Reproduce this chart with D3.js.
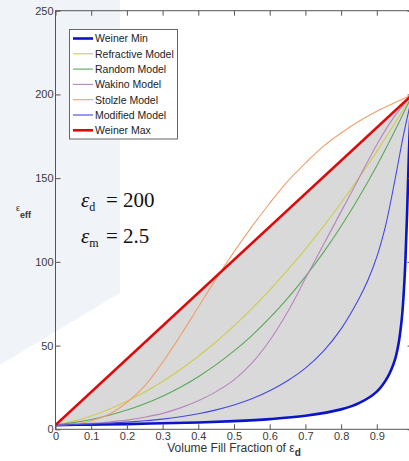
<!DOCTYPE html>
<html>
<head>
<meta charset="utf-8">
<script src="https://cdn.jsdelivr.net/npm/d3@7"></script>
<style>
  body { margin: 0; background: #fff; }
  svg { display: block; font-family: "Liberation Sans", Arial, sans-serif; }
</style>
</head>
<body>
<div class="chart"></div>
<script>
// volume fill fraction grids
const fracGrid = [0, 0.05, 0.1, 0.15, 0.2, 0.25, 0.3, 0.35, 0.4, 0.45, 0.5, 0.55, 0.6, 0.65, 0.7, 0.75, 0.8, 0.85, 0.9, 0.95, 1];
const fracModified = [0, 0.05, 0.1, 0.15, 0.2, 0.25, 0.3, 0.35, 0.4, 0.45, 0.5, 0.55, 0.6, 0.65, 0.7, 0.75, 0.8, 0.85, 0.875, 0.9, 0.925, 0.95, 0.975, 1];
const fracMin = [0, 0.1, 0.2, 0.3, 0.4, 0.5, 0.6, 0.7, 0.8, 0.85, 0.9, 0.93, 0.95, 0.96, 0.97, 0.975, 0.98, 0.985, 0.99, 0.995, 1];
const fracMax = [0, 1];

// effective permittivity
const weinerMin = [2.5, 2.8, 3.1, 3.6, 4.1, 4.9, 6.1, 8.1, 11.9, 15.6, 22.5, 31, 41, 50, 66, 80, 100, 130, 165, 190, 200];
const refractive = [2.5, 4.9, 8, 12, 16.8, 22.3, 28.6, 35.7, 43.6, 52.3, 61.8, 72.1, 83.1, 95, 107.6, 121, 135.3, 150.3, 166, 182.6, 200];
const randomModel = [2.5, 4, 5.9, 8.4, 11.5, 15.3, 19.8, 25.1, 31.4, 38.6, 46.8, 56, 66.5, 78.2, 91.2, 105.5, 121.3, 138.6, 157.4, 178, 200];
const wakino = [2.5, 3, 3.6, 4.4, 5.5, 7.2, 9.5, 12.8, 17, 22.5, 29.5, 39.5, 53, 70, 90, 110, 130, 150, 170, 187, 200];
const stolzle = [2.5, 3.2, 5, 9, 16, 26, 40, 56, 73, 90, 106, 121, 135, 148, 159, 169, 177, 184, 190, 195, 200];
const modified = [2.5, 2.8, 3.2, 3.7, 4.3, 5.1, 6.1, 7.5, 9.3, 11.6, 14.5, 18.2, 23, 29, 36.5, 46.5, 60, 78, 89, 103, 122, 148, 176, 200];
const weinerMax = [2.5, 200];

const xTicks = [0, 0.1, 0.2, 0.3, 0.4, 0.5, 0.6, 0.7, 0.8, 0.9, 1];
const yTicks = [0, 50, 100, 150, 200, 250];

const series = [
  { name: "Weiner Min", fx: fracMin, v: weinerMin, color: "#0a14c8", w: 2.6 },
  { name: "Refractive Model", fx: fracGrid, v: refractive, color: "#cdcd50", w: 1.1 },
  { name: "Random Model", fx: fracGrid, v: randomModel, color: "#5aa85a", w: 1.1 },
  { name: "Wakino Model", fx: fracGrid, v: wakino, color: "#b884c0", w: 1.1 },
  { name: "Stolzle Model", fx: fracGrid, v: stolzle, color: "#f0a06c", w: 1.1 },
  { name: "Modified Model", fx: fracModified, v: modified, color: "#4646e6", w: 1.1 },
  { name: "Weiner Max", fx: fracMax, v: weinerMax, color: "#dc0a0a", w: 2.6 }
];

const W = 409, H = 461;
const x = d3.scaleLinear().domain([0, 1]).range([55.5, 412.5]);
const y = d3.scaleLinear().domain([0, 250]).range([429.3, 10.7]);

const svg = d3.select(".chart").append("svg")
  .attr("width", W).attr("height", H);

svg.append("rect").attr("width", W).attr("height", H).attr("fill", "#fff");

// faint slide decoration behind the chart
svg.append("polygon")
  .attr("points", "0,0 120,0 120,293 0,365")
  .attr("fill", "#f0f3f7");

svg.append("clipPath").attr("id", "plot")
  .append("rect")
  .attr("x", x(0)).attr("y", y(250))
  .attr("width", x(1) - x(0)).attr("height", y(0) - y(250));

const plot = svg.append("g").attr("clip-path", "url(#plot)");

const curve = d3.curveCatmullRom.alpha(0.5);

// grey band between the two Weiner bounds
const maxAt = d3.scaleLinear().domain(fracMax).range(weinerMax);
plot.append("path")
  .datum(fracMin.map((f, i) => [f, weinerMin[i]]))
  .attr("fill", "#d9d9d9")
  .attr("d", d3.area()
    .x(d => x(d[0]))
    .y0(d => y(d[1]))
    .y1(d => y(maxAt(d[0])))
    .curve(curve));

const line = d3.line()
  .x(d => x(d[0]))
  .y(d => y(d[1]))
  .curve(curve);

plot.selectAll(".model")
  .data(series)
  .enter()
  .append("path")
  .attr("class", "model")
  .attr("fill", "none")
  .attr("stroke", d => d.color)
  .attr("stroke-width", d => d.w)
  .attr("stroke-linejoin", "round")
  .attr("d", d => line(d.fx.map((f, i) => [f, d.v[i]])));

// axes, matlab style with inward ticks
const axisColor = "#555";
function styleAxis(g) {
  g.select(".domain").remove();
  g.selectAll(".tick line").attr("stroke", axisColor);
  g.selectAll(".tick text").attr("fill", "#3a3a3a").style("font-size", "11px");
}

// the "1" label falls outside the cropped picture
svg.append("g")
  .attr("transform", `translate(0,${y(0)})`)
  .call(d3.axisBottom(x).tickValues(xTicks).tickSizeInner(-5).tickSizeOuter(0).tickPadding(3)
    .tickFormat(d => d === 1 ? "" : String(d)))
  .call(styleAxis);

svg.append("g")
  .attr("transform", `translate(0,${y(250)})`)
  .call(d3.axisTop(x).tickValues(xTicks).tickSizeInner(-5).tickSizeOuter(0).tickFormat(""))
  .call(styleAxis);

svg.append("g")
  .attr("transform", `translate(${x(0)},0)`)
  .call(d3.axisLeft(y).tickValues(yTicks).tickSizeInner(-5).tickSizeOuter(0).tickPadding(2))
  .call(styleAxis);

svg.append("g")
  .attr("transform", `translate(${x(1)},0)`)
  .call(d3.axisRight(y).tickValues(yTicks).tickSizeInner(-5).tickSizeOuter(0).tickFormat(""))
  .call(styleAxis);

svg.append("rect")
  .attr("x", x(0)).attr("y", y(250))
  .attr("width", x(1) - x(0)).attr("height", y(0) - y(250))
  .attr("fill", "none").attr("stroke", axisColor).attr("stroke-width", 1);

// axis titles
const xt = svg.append("text")
  .attr("x", (x(0) + x(1)) / 2).attr("y", 452)
  .attr("text-anchor", "middle")
  .attr("fill", "#333").style("font-size", "12px");
xt.append("tspan").text("Volume Fill Fraction of ε");
xt.append("tspan").attr("dy", 4).style("font-size", "10px").style("font-weight", "bold").text("d");

const yt = svg.append("text")
  .attr("x", 16).attr("y", 211)
  .attr("fill", "#333").style("font-size", "9px");
yt.append("tspan").text("ε");
yt.append("tspan").attr("dy", 7).style("font-weight", "bold").text("eff");

// legend
const legend = svg.append("g");
legend.append("rect")
  .attr("x", 69.5).attr("y", 29.5).attr("width", 108).attr("height", 109.5)
  .attr("fill", "#fff").attr("stroke", "#666");
const rows = legend.selectAll(".row")
  .data(series)
  .enter()
  .append("g")
  .attr("transform", (d, i) => `translate(0,${38.5 + i * 15.3})`);
rows.append("line")
  .attr("x1", 73).attr("x2", 93)
  .attr("stroke", d => d.color)
  .attr("stroke-width", d => d.w);
rows.append("text")
  .attr("x", 95).attr("y", 3.8)
  .attr("fill", "#222").style("font-size", "10.5px")
  .text(d => d.name);

// parameter annotation
const notes = [["d", "200", 206.5], ["m", "2.5", 243]];
notes.forEach(n => {
  const t = svg.append("text")
    .attr("x", 81).attr("y", n[2])
    .style("font-family", "'Liberation Serif', 'Times New Roman', serif")
    .style("font-size", "21px").attr("fill", "#111");
  t.append("tspan").style("font-style", "italic").text("ε");
  t.append("tspan").attr("dy", 4).style("font-size", "12px").text(n[0]);
  svg.append("text")
    .attr("x", 106).attr("y", n[2])
    .style("font-family", "'Liberation Serif', 'Times New Roman', serif")
    .style("font-size", "21px").attr("fill", "#111")
    .text("= " + n[1]);
});
</script>
</body>
</html>
